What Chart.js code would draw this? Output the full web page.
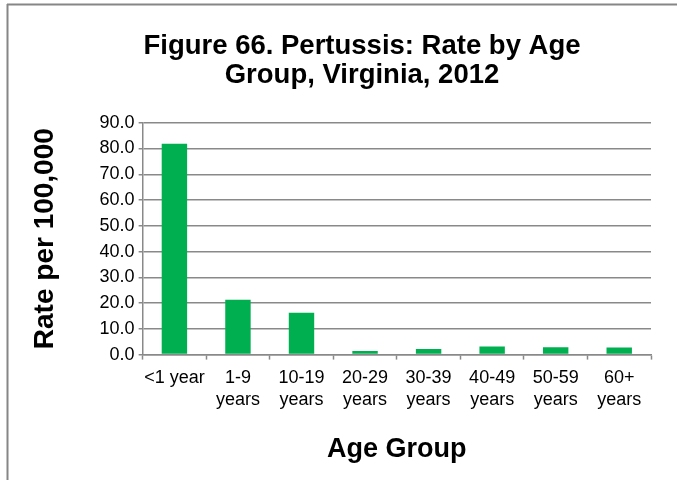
<!DOCTYPE html>
<html>
<head>
<meta charset="utf-8">
<script src="https://cdn.jsdelivr.net/npm/chart.js@4/dist/chart.umd.min.js"></script>
<style>
  html, body { margin: 0; padding: 0; background: #ffffff; }
  #wrap { position: relative; width: 677px; height: 480px; }
</style>
</head>
<body>
<div id="wrap"><canvas id="chart" width="677" height="480"></canvas></div>
<script>
// Pertussis rate per 100,000 population by age group, Virginia 2012
const ageGroups = [
  ['<1 year'],
  ['1-9', 'years'],
  ['10-19', 'years'],
  ['20-29', 'years'],
  ['30-39', 'years'],
  ['40-49', 'years'],
  ['50-59', 'years'],
  ['60+', 'years']
];
const ratePer100k = [81.8, 21.3, 16.2, 1.4, 2.2, 3.1, 2.9, 2.8];

const titleLines = ['Figure 66. Pertussis: Rate by Age', 'Group, Virginia, 2012'];
const yAxisTitle = 'Rate per 100,000';
const xAxisTitle = 'Age Group';
const yMin = 0, yMax = 90, yStep = 10;

const gridGray = '#898989';
const FONT = '"Liberation Sans", Arial, sans-serif';

// Frame lines along the top and left of the chart
const framePlugin = {
  id: 'frame',
  beforeDraw(chart) {
    const ctx = chart.ctx;
    ctx.save();
    ctx.fillStyle = '#ffffff';
    ctx.fillRect(0, 0, chart.width, chart.height);
    ctx.strokeStyle = '#868686';
    ctx.lineWidth = 2;
    ctx.beginPath();
    ctx.moveTo(7, 4.5);
    ctx.lineTo(chart.width, 4.5);
    ctx.moveTo(7.5, 4);
    ctx.lineTo(7.5, chart.height);
    ctx.stroke();
    ctx.restore();
  }
};

new Chart(document.getElementById('chart'), {
  type: 'bar',
  data: {
    labels: ageGroups,
    datasets: [{
      data: ratePer100k,
      backgroundColor: '#00b050',
      borderWidth: 0,
      categoryPercentage: 1.0,
      barPercentage: 0.4
    }]
  },
  options: {
    responsive: false,
    animation: false,
    devicePixelRatio: 1,
    layout: { padding: { left: 73, right: 26, top: 32, bottom: 14 } },
    plugins: {
      legend: { display: false },
      tooltip: { enabled: false },
      title: {
        display: true,
        text: titleLines,
        color: '#000000',
        font: { family: FONT, size: 27.5, weight: 'bold', lineHeight: 1.05 },
        padding: { top: 0, bottom: 33 }
      }
    },
    scales: {
      x: {
        grid: {
          display: true,
          drawOnChartArea: false,
          drawTicks: true,
          tickLength: 5,
          tickColor: gridGray,
          tickWidth: 1.5,
          offset: true
        },
        border: { display: true, color: gridGray, width: 1.5 },
        ticks: {
          color: '#000000',
          font: { family: FONT, size: 18, lineHeight: 1.25 },
          padding: 7,
          maxRotation: 0,
          minRotation: 0,
          autoSkip: false
        },
        title: {
          display: true,
          text: xAxisTitle,
          color: '#000000',
          font: { family: FONT, size: 27, weight: 'bold', lineHeight: 1.2 },
          padding: { top: 15, bottom: 0 }
        }
      },
      y: {
        min: yMin,
        max: yMax,
        grid: {
          color: gridGray,
          lineWidth: 1.5,
          drawTicks: true,
          tickLength: 4,
          tickColor: gridGray
        },
        border: { display: true, color: gridGray, width: 1.5 },
        ticks: {
          stepSize: yStep,
          autoSkip: false,
          color: '#000000',
          font: { family: FONT, size: 18 },
          padding: 4,
          callback: (v) => Number(v).toFixed(1)
        },
        title: {
          display: true,
          text: yAxisTitle,
          color: '#000000',
          font: { family: FONT, size: 28, weight: 'bold', lineHeight: 1.2 },
          padding: { top: -45, bottom: 34 }
        }
      }
    }
  },
  plugins: [framePlugin]
});
</script>
</body>
</html>
